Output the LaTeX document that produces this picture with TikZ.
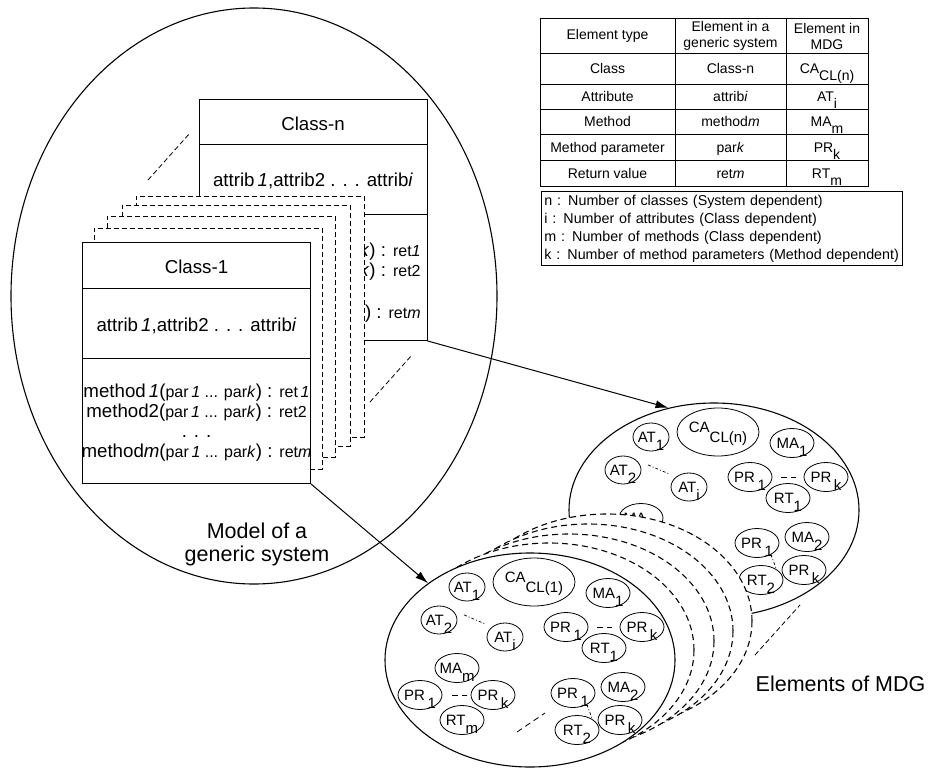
\documentclass[tikz,border=0pt]{standalone}
\usepackage{fontspec}
\setmainfont{Liberation Sans}
\usetikzlibrary{shapes.geometric,arrows.meta}

\newcommand{\lw}[1]{\raisebox{-1ex}{#1}}
\newcommand{\tabf}{\fontsize{14}{16}\selectfont}
\newcommand{\legf}{\fontsize{14.3}{18}\selectfont}
\newcommand{\clsf}{\fontsize{18.7}{20}\selectfont}
\newcommand{\smlf}{\fontsize{16}{20}\selectfont}
\newcommand{\elmf}{\fontsize{15}{16}\selectfont}
\newcommand{\labf}{\fontsize{21.5}{23}\selectfont}

\newcommand{\attribline}{attrib\,\textit{1},attrib2 . . . attrib\textit{i}}
\newcommand{\methline}[2]{method#1({\smlf par\,\textit{1} ... par\textit{k}}) : {\smlf ret#2}}
\newcommand{\methlines}{\methline{\,\textit{1}}{\,\textit{1}}\\ \methline{2}{2}\\ . . .\\ \methline{\textit{m}}{\textit{m}}}
\newcommand{\methtail}[1]{\textit{k}) : {\smlf ret#1}}

% element ellipses of one MDG, around (0,0)
\newcommand{\mdgparts}[2]{%
  \node[anode] (at1#1) at (-63,-73) {AT\lw{1}};
  \node[cnode] (ca#1)  at (4,-78)   {\raisebox{5pt}{CA}\raisebox{-5pt}{#2}};
  \node[mnode] (ma1#1) at (78,-67)  {MA\lw{1}};
  \node[anode] (at2#1) at (-91,-40) {AT\lw{2}};
  \node[anode] (ati#1) at (-25,-23) {AT\lw{i}};
  \node[mnode] (pra#1) at (36,-33)  {PR\,\lw{1}};
  \node[mnode] (pka#1) at (112,-33) {PR\,\lw{k}};
  \node[mnode] (rt1#1) at (74,-12)  {RT\lw{1}};
  \node[mnode] (mam#1) at (-73,8)   {MA\lw{m}};
  \node[mnode] (prb#1) at (-110,35) {PR\,\lw{1}};
  \node[mnode] (pkb#1) at (-37,35)  {PR\,\lw{k}};
  \node[mnode] (rtm#1) at (-68,60)  {RT\lw{m}};
  \node[mnode] (prc#1) at (43,33)   {PR\,\lw{1}};
  \node[mnode] (ma2#1) at (93,27)   {MA\lw{2}};
  \node[mnode] (rt2#1) at (47,70)   {RT\lw{2}};
  \node[mnode] (pkc#1) at (90,60)   {PR\,\lw{k}};
  \draw[hint, shorten <=13pt, shorten >=7pt] (at2#1.north east) -- (ati#1.north west);
  \draw[dash pattern=on 6pt off 4pt, shorten <=9pt, shorten >=8pt] (pra#1) -- (pka#1);
  \draw[dash pattern=on 6pt off 4pt, shorten <=10pt, shorten >=4pt] (prb#1) -- (pkb#1);
  \draw[hint] (prc#1.-40) -- (rt2#1.35);
}

\begin{document}
\begin{tikzpicture}
  [x=1pt, y=-1pt, line width=0.8pt,
   >={Latex[length=13pt,width=8pt]},
   cbox/.style={draw, fill=white, minimum width=228pt, minimum height=241pt, inner sep=0pt},
   gbox/.style={cbox, dash pattern=on 5pt off 3pt},
   mdg/.style={ellipse, draw, fill=white, line width=1.1pt, minimum width=290pt,
               minimum height=214pt, inner sep=0pt},
   ghost/.style={mdg, dash pattern=on 6pt off 4pt},
   mnode/.style={ellipse, draw, fill=white, font=\elmf, inner xsep=-5pt, inner ysep=0pt,
                 text height=10.7pt, text depth=0pt, minimum width=44pt, minimum height=29pt},
   anode/.style={mnode, minimum width=36pt, minimum height=28pt},
   cnode/.style={mnode, minimum width=82pt, minimum height=48pt},
   tcell/.style={font=\tabf, text height=10pt, text depth=0pt, inner sep=0pt},
   hint/.style={dash pattern=on 3pt off 2pt on 1pt off 2pt, line width=0.7pt}]

  \useasboundingbox (0,0) rectangle (930,771);

  % generic system
  \node[ellipse, draw, line width=1.1pt, minimum width=486pt, minimum height=576pt] (sysell) at (254,296) {};
  \node[font=\labf, align=center] (syslab) at (257,544) {Model of a\\generic system};

  % class n (back)
  \node[cbox] (clsn) at (313,220) {};
  \draw ([yshift=-45pt]clsn.north west) -- ([yshift=-45pt]clsn.north east);
  \draw ([yshift=-115pt]clsn.north west) -- ([yshift=-115pt]clsn.north east);
  \node[font=\clsf] (clsnname) at ([yshift=-25pt]clsn.north) {Class-n};
  \node[font=\clsf] (clsnattr) at ([yshift=-82pt]clsn.north) {\attribline};
  \node[font=\clsf, align=right, anchor=east, inner sep=0pt] (clsnmeth) at (421,283)
    {\methtail{\textit{1}}\\ \methtail{2}\\[22pt] \methtail{\textit{m}}};

  % classes in between
  \foreach \gx/\gy [count=\gi] in {250/316.5, 236/325.5, 221/336.5, 208/348.5}
    \node[gbox] (gb\gi) at (\gx,\gy) {};

  % class 1 (front)
  \node[cbox] (cls1) at (196.5,363) {};
  \draw ([yshift=-46pt]cls1.north west) -- ([yshift=-46pt]cls1.north east);
  \draw ([yshift=-116pt]cls1.north west) -- ([yshift=-116pt]cls1.north east);
  \node[font=\clsf] (cls1name) at ([yshift=-25pt]cls1.north) {Class-1};
  \node[font=\clsf] (cls1attr) at ([yshift=-84pt]cls1.north) {\attribline};
  \node[font=\clsf, align=center] (cls1meth) at ([yshift=-181pt]cls1.north) {\methlines};

  \coordinate (dsa) at (148,180);
  \coordinate (dsb) at (190,133);
  \coordinate (dsc) at (370,402);
  \coordinate (dsd) at (412,355);
  \draw[dash pattern=on 5pt off 3pt] (dsa) -- (dsb);
  \draw[dash pattern=on 5pt off 3pt] (dsc) -- (dsd);

  % MDG of class n
  \node[mdg] (mdgn) at (714,510) {};
  \begin{scope}[shift={(714,510)}]
    \mdgparts{n}{CL(n)}
  \end{scope}

  % MDGs in between
  \foreach \gx/\gy [count=\gi] in {607/621, 588/631, 569/641, 549/650}
    \node[ghost] (gm\gi) at (\gx,\gy) {};

  % MDG of class 1
  \node[mdg] (mdgo) at (530,660) {};
  \begin{scope}[shift={(530,660)}]
    \mdgparts{o}{CL(1)}
    \coordinate (dka) at (-13,72);
    \coordinate (dkb) at (15,53);
    \draw[dash pattern=on 6pt off 4pt] (dka) -- (dkb);
  \end{scope}

  \coordinate (dme) at (755,655);
  \coordinate (dmf) at (800,605);
  \draw[dash pattern=on 5pt off 3pt] (dme) -- (dmf);
  \node[font=\labf, anchor=west] (mdglab) at (752,684) {Elements of MDG};

  % mappings
  \draw[->, line width=1pt] (clsn.south east) -- (mdgn.114);
  \draw[->, line width=1pt] (cls1.south east) -- (mdgo.143);

  % table
  \draw (540,18) rectangle (868,186);
  \foreach \ry in {53,84,109,134,160}
    \draw (540,\ry) -- (868,\ry);
  \foreach \cx in {675,786}
    \draw (\cx,18) -- (\cx,186);
  \node[font=\tabf] (hda) at (607.5,36) {Element type};
  \node[font=\tabf, align=center] (hdb) at (730.5,36) {Element in a\\generic system};
  \node[font=\tabf, align=center] (hdc) at (827,36) {Element in\\MDG};
  \foreach \ry/\ta/\tb/\tc [count=\ri] in {68.5/Class/Class-n/CA\lw{CL(n)},
      96.5/Attribute/attrib\textit{i}/AT\lw{i},
      121.5/Method/method\textit{m}/MA\lw{m},
      147/Method parameter/par\textit{k}/PR\lw{k},
      173/Return value/ret\textit{m}/RT\lw{m}}
  {
    \node[tcell] (ta\ri) at (607.5,\ry) {\ta};
    \node[tcell] (tb\ri) at (730.5,\ry) {\tb};
    \node[tcell] (tc\ri) at (827,\ry) {\tc};
  }

  % legend
  \node[draw, anchor=north west, align=left, font=\legf, minimum width=361pt, minimum height=71pt,
        inner xsep=3pt, text width=355pt] (legend) at (541,191)
    {n : Number of classes (System dependent)\\
     i : Number of attributes (Class dependent)\\
     m : Number of methods (Class dependent)\\
     k : Number of method parameters (Method dependent)};

\end{tikzpicture}
\end{document}
